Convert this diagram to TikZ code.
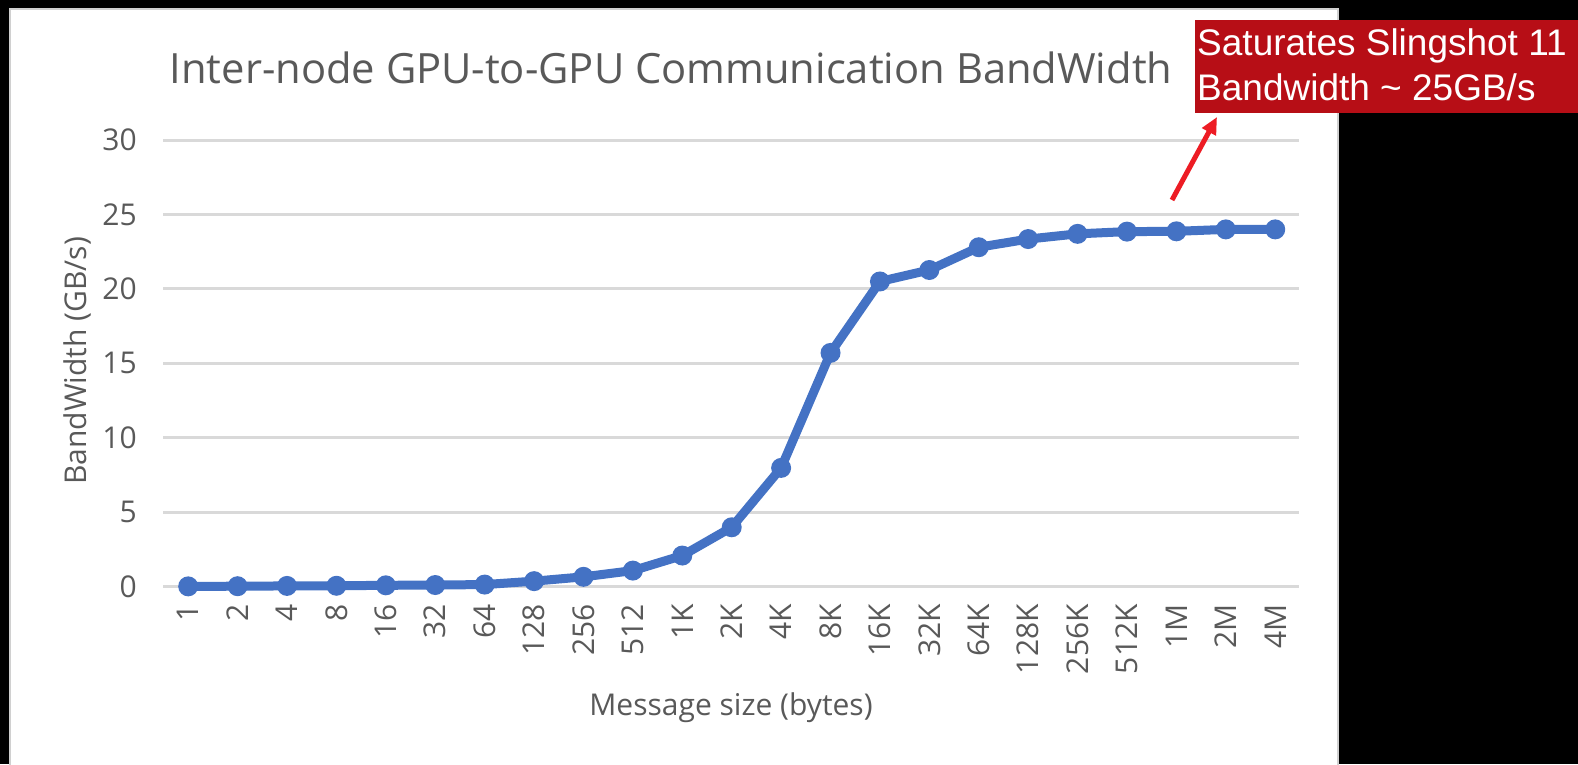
\documentclass[tikz,border=0pt]{standalone}
\usepackage{fontspec}
\setmainfont{Open Sans}
\newfontfamily\annofont{Liberation Sans}
\usetikzlibrary{arrows.meta}
\definecolor{gridgray}{HTML}{D9D9D9}
\definecolor{framegray}{HTML}{D0D0D0}
\definecolor{textgray}{HTML}{595959}
\definecolor{serieblue}{HTML}{4472C4}
\definecolor{notered}{RGB}{183,14,22}
\definecolor{arrowred}{RGB}{237,28,36}
\tikzset{
  gridline/.style={draw=gridgray, line width=3},
  ticklabel/.style={text=textgray, font=\fontsize{30}{36}\selectfont, inner sep=0},
  axistitle/.style={text=textgray, font=\fontsize{30}{36}\selectfont, inner sep=0},
  charttitle/.style={text=textgray, font=\fontsize{41.7}{48}\selectfont, inner sep=0},
  serie/.style={draw=serieblue, line width=9, line join=round, line cap=round},
  marker/.style={circle, fill=serieblue, minimum size=20, inner sep=0},
  notebox/.style={fill=notered, inner sep=0, anchor=north west},
  notetext/.style={text=white, font=\annofont\fontsize{37}{45}\selectfont, inner sep=0, anchor=base west},
  callout/.style={draw=arrowred, line width=5, -{Triangle[length=17,width=15]}}
}
\begin{document}
\begin{tikzpicture}[x=1pt, y=-1pt]
  % page background and chart panel
  \fill[black] (0,0) rectangle (1578,764);
  \useasboundingbox (0,0) rectangle (1578,764);
  \filldraw[fill=white, draw=framegray, line width=2] (10,9) rectangle (1338,770);

  % horizontal gridlines with value labels
  \foreach \v in {0,5,...,30} {
    \draw[gridline] (163,{586.5-14.88*\v}) -- (1299,{586.5-14.88*\v});
    \node[ticklabel, anchor=east] (y\v) at (137,{586.5-14.88*\v}) {\v};
  }

  % category labels
  \foreach \lab [count=\i from 0] in {1,2,4,8,16,32,64,128,256,512,1K,2K,4K,8K,16K,32K,64K,128K,256K,512K,1M,2M,4M} {
    \node[ticklabel, rotate=90, anchor=east] (x\i) at ({188.2+49.41*\i},604) {\lab};
  }

  % measured bandwidth
  \foreach \v [count=\i from 0] in {0.01,0.02,0.04,0.05,0.08,0.10,0.13,0.36,0.65,1.07,2.08,3.98,7.97,15.7,20.5,21.27,22.8,23.35,23.7,23.85,23.87,24.0,24.0} {
    \coordinate (p\i) at ({188.2+49.41*\i},{586.5-14.88*\v});
  }
  \draw[serie] (p0) foreach \i in {1,...,22} { -- (p\i) };
  \foreach \i in {0,...,22} { \node[marker] (m\i) at (p\i) {}; }

  % titles
  \node[charttitle, anchor=base] (title) at (671,83) {Inter-node GPU-to-GPU Communication BandWidth};
  \node[axistitle, rotate=90] (ytitle) at (77,361) {BandWidth (GB/s)};
  \node[axistitle, anchor=base] (xtitle) at (731,715) {Message size (bytes)};

  % annotation
  \node[notebox, minimum width=383, minimum height=93] (note) at (1195,20) {};
  \node[notetext] (note1) at (1197,55) {Saturates Slingshot 11};
  \node[notetext] (note2) at (1197,100) {Bandwidth \textasciitilde{} 25GB/s};
  \coordinate (atail) at (1172,200);
  \coordinate (atip) at (1217,117);
  \draw[callout] (atail) -- (atip);
\end{tikzpicture}
\end{document}
